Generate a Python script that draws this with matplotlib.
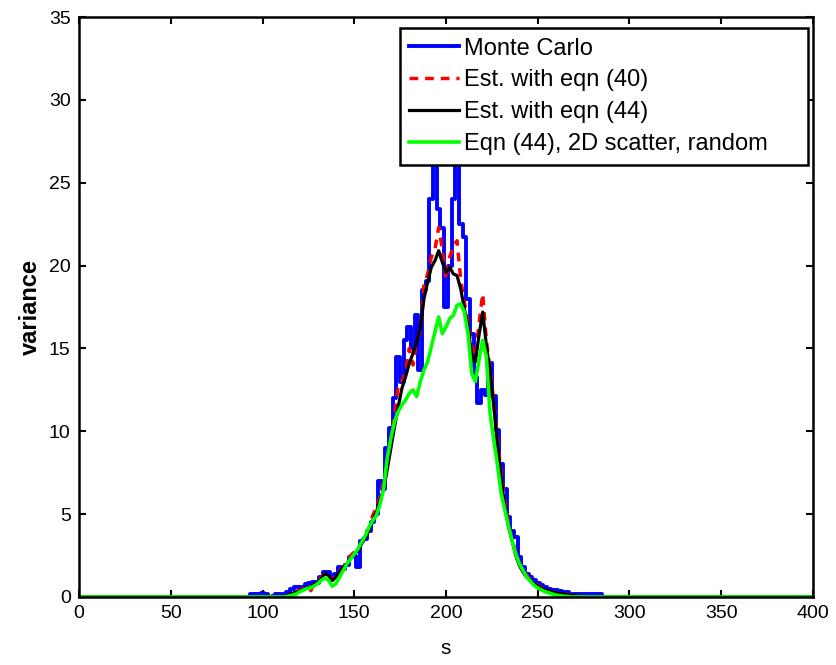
import matplotlib
matplotlib.use("Agg")
import matplotlib.pyplot as plt
import numpy as np

plt.rcParams['font.family'] = ['Liberation Sans', 'DejaVu Sans']

# grid of s values (step 2 over the non-zero part)
s = [0] + list(range(90, 292, 2)) + [400]

monte_carlo = [0,
    0, 0, 0.2, 0.2, 0.2, 0.25, 0.2, 0, 0.05, 0.2,
    0.2, 0.2, 0.3, 0.5, 0.6, 0.6, 0.6, 0.8, 0.85, 0.9,
    0.85, 1.2, 1.5, 1.5, 1.2, 1.4, 1.8, 1.7, 1.9, 2.4,
    2.5, 1.8, 3.4, 3.5, 4.0, 4.5, 5.0, 7.0, 6.5, 9.0,
    10.2, 12.0, 14.5, 13.0, 15.5, 16.3, 15.0, 17.0, 13.7, 18.5,
    19.1, 24.0, 27.0, 23.4, 22.3, 17.5, 20.0, 24.0, 28.0, 22.5,
    21.7, 18.0, 15.9, 13.3, 11.7, 12.5, 12.2, 14.1, 12.1, 10.1,
    8.0, 6.5, 4.8, 4.0, 3.6, 2.4, 1.8, 1.4, 1.2, 1.0,
    0.85, 0.7, 0.6, 0.5, 0.45, 0.4, 0.35, 0.3, 0.3, 0.2,
    0.2, 0.2, 0.2, 0.2, 0.15, 0.15, 0.15, 0.15, 0, 0,
    0, 0]

est_40 = [0,
    0, 0, 0, 0, 0, 0, 0, 0, 0, 0,
    0, 0, 0.1, 0.2, 0.3, 0.4, 0.5, 0.5, 0.3, 0.8,
    0.9, 1.2, 1.4, 1.35, 1.0, 1.3, 1.6, 1.8, 2.1, 2.5,
    2.7, 2.9, 3.3, 3.8, 4.1, 4.9, 5.4, 6.0, 6.9, 8.2,
    9.5, 11.0, 12.8, 13.0, 13.6, 15.0, 14.0, 15.5, 16.0, 18.8,
    19.5, 20.5, 21.0, 22.3, 21.0, 19.2, 20.5, 21.2, 21.5, 19.2,
    17.8, 16.5, 15.0, 14.5, 16.5, 18.3, 15.5, 13.8, 11.8, 9.5,
    7.5, 5.8, 4.5, 3.5, 2.7, 2.0, 1.6, 1.3, 1.05, 0.85,
    0.7, 0.55, 0.45, 0.38, 0.3, 0.25, 0.2, 0.18, 0.15, 0.1,
    0.08, 0.05, 0.03, 0, 0, 0, 0, 0, 0, 0,
    0, 0]

est_44 = [0,
    0, 0, 0, 0, 0, 0, 0, 0, 0, 0,
    0, 0, 0.1, 0.2, 0.3, 0.35, 0.45, 0.55, 0.6, 0.75,
    0.85, 1.1, 1.4, 1.3, 1.0, 1.2, 1.5, 1.8, 2.0, 2.3,
    2.6, 2.8, 3.2, 3.6, 4.0, 4.6, 5.1, 5.8, 6.5, 7.7,
    9.0, 10.3, 11.5, 12.6, 13.3, 14.1, 14.7, 15.4, 16.2, 18.0,
    19.0, 19.9, 20.3, 20.9, 20.2, 19.6, 19.9, 19.5, 19.4, 18.6,
    17.4, 16.3, 14.6, 14.2, 15.8, 17.2, 15.2, 13.6, 11.6, 9.2,
    7.2, 5.5, 4.3, 3.4, 2.5, 1.9, 1.5, 1.2, 1.0, 0.8,
    0.65, 0.5, 0.42, 0.35, 0.3, 0.25, 0.2, 0.18, 0.15, 0.1,
    0.08, 0.05, 0.03, 0, 0, 0, 0, 0, 0, 0,
    0, 0]

scatter_2d = [0,
    0, 0, 0, 0, 0, 0, 0, 0, 0, 0,
    0, 0, 0.05, 0.1, 0.15, 0.3, 0.4, 0.5, 0.55, 0.65,
    0.8, 1.0, 1.15, 1.0, 0.65, 0.8, 1.2, 1.6, 2.0, 2.3,
    2.6, 2.9, 3.3, 3.7, 4.2, 4.6, 4.9, 5.6, 6.5, 8.4,
    9.6, 10.6, 11.2, 11.6, 11.9, 12.3, 12.5, 12.1, 13.0, 13.7,
    14.2, 15.1, 16.0, 16.9, 15.9, 16.3, 16.8, 17.0, 17.6, 17.7,
    17.2, 15.9, 13.5, 13.0, 14.3, 15.5, 14.5, 11.1, 9.5, 8.0,
    6.3, 5.3, 4.3, 3.4, 2.6, 2.0, 1.6, 1.2, 0.95, 0.7,
    0.55, 0.42, 0.32, 0.25, 0.18, 0.12, 0.08, 0.05, 0.03, 0,
    0, 0, 0, 0, 0, 0, 0, 0, 0, 0,
    0, 0]

labels = ["Monte Carlo", "Est. with eqn (40)", "Est. with eqn (44)",
          "Eqn (44), 2D scatter, random"]

fig = plt.figure(figsize=(8.37, 6.65), dpi=100)
ax = fig.add_axes([0.0944, 0.1023, 0.8769, 0.872])

ax.plot(s, monte_carlo, color='#0000ff', lw=2.8, drawstyle='steps-mid', label=labels[0])
ax.plot(s, est_40, color='#ff0000', lw=2.5, ls=(0, (2.5, 2)), label=labels[1])
ax.plot(s, est_44, color='black', lw=2.3, label=labels[2])
ax.plot(s, scatter_2d, color='#00ff00', lw=2.6, label=labels[3])

ax.set_xlim(0, 400)
ax.set_ylim(0, 35)
ax.set_xticks(np.arange(0, 401, 50))
ax.set_yticks(np.arange(0, 36, 5))
ax.tick_params(direction='in', top=True, right=True, length=5, width=1.5,
               labelsize=14, colors='black', pad=6)
for sp in ax.spines.values():
    sp.set_linewidth(1.8)

ax.set_xlabel("s", fontsize=15, labelpad=12)
ax.set_ylabel("variance", fontsize=17, fontweight='bold', labelpad=5)

# legend box stretched to the width it has in the original
leg = ax.legend(loc='upper left', bbox_to_anchor=(0.437, 0.0, 0.556, 0.981),
                mode='expand', borderaxespad=0, fontsize=17, handlelength=2.1,
                handletextpad=0.2, fancybox=False, framealpha=1,
                labelspacing=0.42, borderpad=0.4)
leg.get_frame().set_edgecolor('black')
leg.get_frame().set_linewidth(1.8)

fig.savefig("out.png", dpi=100)
